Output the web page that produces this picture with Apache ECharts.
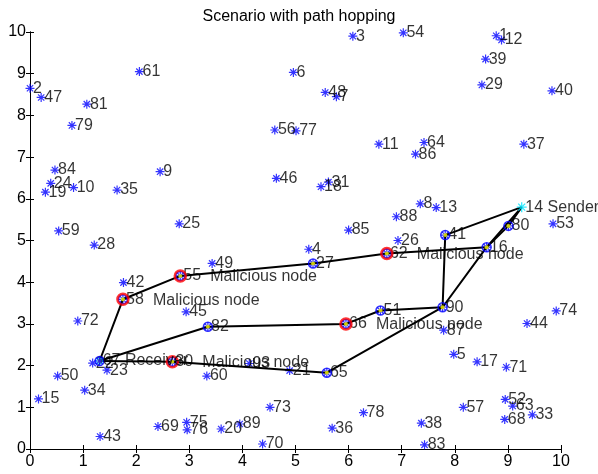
<!DOCTYPE html>
<html><head><meta charset="utf-8">
<script src="https://cdn.jsdelivr.net/npm/echarts@6/dist/echarts.min.js"></script>
<style>html,body{margin:0;padding:0;background:#fff}#c{width:598px;height:474px}</style>
</head><body><div id="c"></div>
<script>
const titleText = 'Scenario with path hopping';
const nodeIds = [1,2,3,4,5,6,7,8,9,10,11,12,13,14,15,16,17,18,19,20,
  21,22,23,24,25,26,27,28,29,30,31,33,34,35,36,37,38,39,40,
  41,42,43,44,45,46,47,48,49,50,51,52,53,54,55,56,57,58,59,60,
  61,62,63,64,65,66,67,68,69,70,71,72,73,74,75,76,77,78,79,80,
  81,82,83,84,85,86,87,88,89,90,93];
const nodeX = [8.78,0.00,6.08,5.25,7.98,4.96,5.77,7.35,2.45,0.82,6.57,8.88,7.65,9.26,0.16,8.60,8.42,5.48,0.29,3.60,
  4.89,1.18,1.45,0.39,2.81,6.93,5.33,1.21,8.51,2.68,5.62,9.46,1.03,1.64,5.69,9.30,7.37,8.58,9.83,
  7.82,1.76,1.32,9.36,2.94,4.64,0.21,5.56,3.43,0.52,6.60,8.95,9.85,7.03,2.83,4.61,8.16,1.75,0.54,3.33,
  2.06,6.72,9.09,7.42,5.59,5.95,1.31,8.94,2.41,4.38,8.97,0.90,4.52,9.91,2.95,2.96,5.01,6.28,0.79,9.01,
  1.07,3.35,7.43,0.47,6.00,7.26,7.79,6.90,3.95,7.77,4.13];
const nodeY = [9.91,8.65,9.90,4.79,2.27,9.03,8.45,5.88,6.65,6.27,7.31,9.81,5.79,5.80,1.20,4.84,2.09,6.29,6.16,0.48,
  1.88,2.06,1.89,6.37,5.40,5.00,4.45,4.89,8.73,2.09,6.40,0.82,1.41,6.21,0.50,7.31,0.62,9.35,8.59,
  5.13,3.99,0.30,3.01,3.29,6.49,8.43,8.55,4.45,1.75,3.32,1.19,5.40,9.98,4.15,7.65,1.00,3.59,5.23,1.75,
  9.05,4.69,1.03,7.35,1.83,3.00,2.11,0.71,0.54,0.12,1.96,3.07,1.00,3.31,0.64,0.46,7.63,0.87,7.76,5.35,
  8.27,2.93,0.10,6.69,5.25,7.07,2.85,5.57,0.60,3.40,2.05];
const pathA = [67,58,55,27,62,16,14];
const pathB = [67,82,66,51,90,41,14];
const pathC = [67,30,65,90,16,80,14];
const maliciousIds = [58,55,62,66,30];
const senderId = 14;
const receiverId = 67;
const maliciousText = 'Malicious node';
const senderText = 'Sender';
const receiverText = 'Receiver';

const FONT = 'Liberation Sans, Arial, sans-serif';
const FS = 16;
function pos(id){ const i = nodeIds.indexOf(id); return [nodeX[i], nodeY[i]]; }
const star = 'path://M5,0L5,10M0,5L10,5M1.5,1.5L8.5,8.5M1.5,8.5L8.5,1.5';

const normalNodes = nodeIds.filter(id => id !== senderId && id !== receiverId)
  .map(id => { const p = pos(id); return {value:[p[0],p[1]], name:String(id)}; });
const pathNodeSet = [];
[pathA,pathB,pathC].forEach(p => p.forEach(id => { if (id!==senderId && pathNodeSet.indexOf(id)<0) pathNodeSet.push(id); }));

const series = [];
series.push({type:'scatter', z:2, symbol:star, symbolSize:9, silent:true,
  itemStyle:{color:'rgba(0,0,0,0)', borderColor:'#0000ff', borderWidth:1.2},
  label:{show:true, position:'right', distance:-2, formatter:p=>p.name, color:'#000', fontSize:FS, fontFamily:FONT},
  data: normalNodes});
[pathA,pathB,pathC].forEach(p => series.push({type:'line', z:3, symbol:'none', silent:true,
  lineStyle:{color:'#000', width:2}, data: p.map(pos)}));
series.push({type:'scatter', z:4, symbol:'circle', symbolSize:9, silent:true,
  itemStyle:{color:'rgba(0,0,0,0)', borderColor:'#0000ff', borderWidth:1.5},
  data: pathNodeSet.map(pos)});
series.push({type:'scatter', z:4, symbol:'circle', symbolSize:6, silent:true,
  itemStyle:{color:'rgba(0,0,0,0)', borderColor:'#00e5ff', borderWidth:1},
  data: [pos(receiverId)]});
series.push({type:'scatter', z:5, symbol:'circle', symbolSize:11, silent:true,
  itemStyle:{color:'rgba(0,0,0,0)', borderColor:'#ff0000', borderWidth:2.5},
  data: maliciousIds.map(pos)});
series.push({type:'scatter', z:6, symbol:'circle', symbolSize:4, silent:true,
  itemStyle:{color:'#ffff00'}, data: pathNodeSet.map(pos)});
series.push({type:'scatter', z:7, symbol:'circle', symbolSize:8, silent:true,
  itemStyle:{color:'rgba(0,0,0,0)'},
  label:{show:true, position:'right', distance:-2, offset:[28,1], formatter:maliciousText, color:'#000', fontSize:FS, fontFamily:FONT},
  data: maliciousIds.map(pos)});
series.push({type:'scatter', z:7, symbol:star, symbolSize:9, silent:true,
  itemStyle:{color:'rgba(0,0,0,0)', borderColor:'#0000ff', borderWidth:1.2},
  label:{show:true, position:'right', distance:-2, formatter:String(receiverId)+' '+receiverText, color:'#000', fontSize:FS, fontFamily:FONT},
  data:[pos(receiverId)]});
series.push({type:'scatter', z:8, symbol:star, symbolSize:10, silent:true,
  itemStyle:{color:'rgba(0,0,0,0)', borderColor:'#00e5ff', borderWidth:1.3},
  label:{show:true, position:'right', distance:-2, formatter:String(senderId)+' '+senderText, color:'#000', fontSize:FS, fontFamily:FONT},
  data:[pos(senderId)]});

const axisCommon = {type:'value', min:0, max:10, interval:1, splitLine:{show:false},
  axisLine:{show:true, lineStyle:{color:'#000', width:1}},
  axisTick:{show:true, inside:true, length:4, lineStyle:{color:'#000'}}};
const chart = echarts.init(document.getElementById('c'), null, {renderer:'canvas'});
chart.setOption({
  animation:false, backgroundColor:'#fff',
  title:{text:titleText, left:'center', top:4, textStyle:{fontSize:FS, fontWeight:'normal', color:'#000', fontFamily:FONT}},
  grid:{left:30, right:37, top:32, bottom:25, outerBoundsMode:'none'},
  xAxis:[Object.assign({}, axisCommon, {position:'bottom', axisLabel:{color:'#000', fontSize:FS, margin:5, fontFamily:FONT}}),
         Object.assign({}, axisCommon, {position:'top', axisLabel:{show:false}})],
  yAxis:[Object.assign({}, axisCommon, {position:'left', axisLabel:{color:'#000', fontSize:FS, margin:4, fontFamily:FONT}}),
         Object.assign({}, axisCommon, {position:'right', axisLabel:{show:false}})],
  series: series
});
</script></body></html>
